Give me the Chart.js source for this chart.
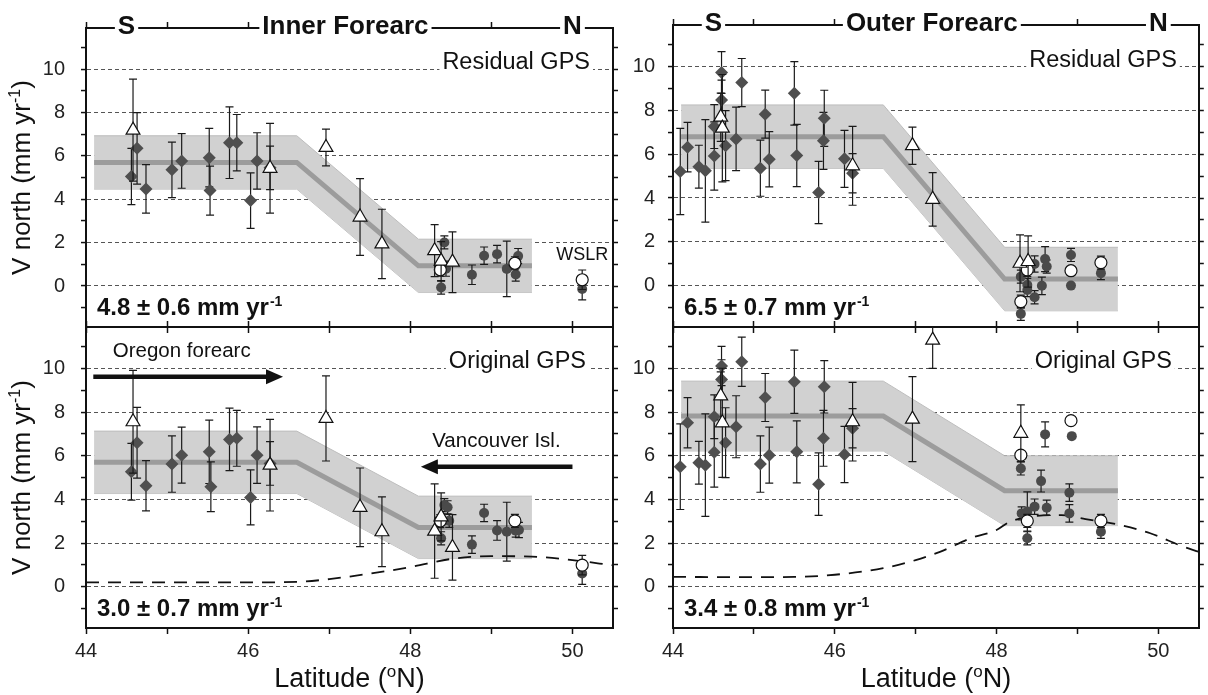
<!DOCTYPE html>
<html>
<head>
<meta charset="utf-8">
<script src="https://cdn.jsdelivr.net/npm/chart.js@4.4.1/dist/chart.umd.min.js"></script>
<style>
  html, body { margin: 0; padding: 0; background: #fff; }
  #wrap { position: relative; width: 1208px; height: 695px; overflow: hidden; background: #fff; }
  #wrap canvas { position: absolute; left: 0; top: 0; }
</style>
</head>
<body>
<div id="wrap">
  <canvas id="innerRes" width="1208" height="695"></canvas>
  <canvas id="innerOrig" width="1208" height="695"></canvas>
  <canvas id="outerRes" width="1208" height="695"></canvas>
  <canvas id="outerOrig" width="1208" height="695"></canvas>
</div>
<script>
const FONT = "'Liberation Sans', Arial, Helvetica, sans-serif";

// latitude of the model band corners (shared by all panels)
const bandLat = [44.1, 46.6, 48.1, 49.5];

// ---- Inner forearc, residual GPS  [lat, v north, error]
const innerResDiamonds = [
  [44.56, 5.05, 1.3], [44.63, 6.35, 1.65], [44.74, 4.48, 1.12], [45.06, 5.36, 1.28],
  [45.18, 5.77, 1.26], [45.52, 5.92, 1.35], [45.53, 4.40, 1.13], [45.77, 6.61, 1.65],
  [45.86, 6.61, 1.3], [46.03, 3.94, 1.28], [46.11, 5.77, 1.3], [46.27, 5.45, 1.0]
];
const innerResTriangles = [
  [44.58, 7.19, 2.35], [46.27, 5.43, 2.07], [46.96, 6.39, 0.85], [47.38, 3.18, 1.77],
  [47.65, 1.94, 1.6], [48.30, 1.63, 1.2], [48.38, 1.15, 0.9], [48.52, 1.10, 1.4]
];
const innerResCircles = [
  [48.42, 2.01, 0.3], [48.44, 0.8, 0.35], [48.38, -0.07, 0.3], [48.76, 0.52, 0.45],
  [48.91, 1.40, 0.4], [49.07, 1.47, 0.4], [49.19, 0.79, 1.28], [49.33, 1.38, 0.35],
  [49.30, 0.53, 0.3], [50.12, -0.14, 0.5]
];
const innerResOpen = [[48.37, 0.75, 0.3], [49.29, 1.05, 0.3], [50.12, 0.29, 0.45]];
const innerResModel = [5.7, 5.7, 0.93, 0.93];
const innerResHalf = 1.23;

// ---- Inner forearc, original GPS
const innerOrigDiamonds = [
  [44.56, 5.27, 1.3], [44.63, 6.60, 1.62], [44.74, 4.63, 1.15], [45.06, 5.62, 1.29],
  [45.18, 6.03, 1.28], [45.52, 6.18, 1.45], [45.54, 4.58, 1.14], [45.77, 6.75, 1.43],
  [45.86, 6.80, 1.28], [46.03, 4.09, 1.26], [46.11, 6.03, 1.29], [46.27, 5.65, 1.0]
];
const innerOrigTriangles = [
  [44.58, 7.56, 2.35], [46.27, 5.57, 2.1], [46.96, 7.71, 1.95], [47.38, 3.64, 1.8],
  [47.65, 2.52, 1.6], [48.30, 2.55, 2.16], [48.38, 3.2, 1.1], [48.52, 1.80, 1.5]
];
const innerOrigCircles = [
  [48.42, 3.74, 0.3], [48.46, 3.64, 0.3], [48.48, 3.02, 0.3], [48.38, 2.22, 0.3],
  [48.76, 1.93, 0.4], [48.91, 3.38, 0.4], [49.07, 2.58, 0.45], [49.19, 2.52, 1.35],
  [49.30, 2.57, 0.3], [49.34, 2.6, 0.35], [50.12, 0.61, 0.5]
];
const innerOrigOpen = [[48.37, 3.01, 0.3], [49.29, 3.02, 0.3], [50.12, 0.99, 0.45]];
const innerOrigModel = [5.7, 5.7, 2.72, 2.72];
const innerOrigHalf = 1.43;
const innerCurveLat = [44.0, 45.0, 46.0, 46.6, 47.0, 47.5, 48.0, 48.5, 49.0, 49.5, 50.0, 50.5];
const innerCurveV = [0.2, 0.2, 0.2, 0.22, 0.35, 0.6, 0.9, 1.27, 1.4, 1.38, 1.22, 0.98];

// ---- Outer forearc, residual GPS
const outerResDiamonds = [
  [44.09, 5.21, 1.97], [44.18, 6.32, 1.13], [44.32, 5.43, 0.98], [44.40, 5.24, 2.34],
  [44.51, 5.92, 1.56], [44.51, 7.26, 1.0], [44.60, 9.73, 0.95], [44.60, 8.48, 0.9],
  [44.65, 6.39, 1.6], [44.78, 6.70, 1.45], [44.85, 9.27, 1.1], [45.08, 5.36, 1.28],
  [45.14, 7.83, 1.1], [45.19, 5.77, 1.26], [45.50, 8.78, 1.45], [45.53, 5.94, 1.42],
  [45.80, 4.25, 1.42], [45.87, 7.64, 1.28], [45.86, 6.61, 1.3], [46.12, 5.79, 1.3],
  [46.22, 5.13, 0.9]
];
const outerResTriangles = [
  [44.59, 7.69, 1.1], [44.61, 7.19, 2.45], [46.22, 5.47, 1.8], [46.96, 6.39, 0.85],
  [47.21, 3.94, 1.22], [48.29, 1.02, 1.3], [48.39, 1.10, 1.17]
];
const outerResCircles = [
  [48.47, 0.99, 0.37], [48.60, 1.21, 0.57], [48.62, 0.87, 0.3], [48.30, 0.41, 0.3],
  [48.38, 0.03, 0.3], [48.38, -0.2, 0.3], [48.56, -0.01, 0.4], [48.47, -0.53, 0.3],
  [48.30, -1.29, 0.3], [48.92, 1.40, 0.3], [48.92, 0.0, 0], [49.29, 0.57, 0.3]
];
const outerResOpen = [[48.38, 0.72, 0.3], [48.30, -0.73, 0.3], [48.92, 0.68, 0], [49.29, 1.05, 0.3]];
const outerResModel = [6.8, 6.8, 0.3, 0.3];
const outerResHalf = 1.45;

// ---- Outer forearc, original GPS
const outerOrigDiamonds = [
  [44.09, 5.50, 1.96], [44.18, 7.51, 1.15], [44.32, 5.68, 0.98], [44.40, 5.57, 2.35],
  [44.51, 7.79, 1.0], [44.51, 6.16, 1.6], [44.60, 10.11, 0.9], [44.60, 9.50, 0.9],
  [44.65, 6.60, 1.6], [44.78, 7.33, 1.42], [44.85, 10.31, 1.13], [45.08, 5.62, 1.29],
  [45.14, 8.67, 1.1], [45.19, 6.03, 1.28], [45.50, 9.39, 1.45], [45.53, 6.18, 1.42],
  [45.80, 4.70, 1.43], [45.87, 9.16, 1.2], [45.86, 6.80, 1.28], [46.12, 6.06, 1.29],
  [46.22, 7.26, 0.9]
];
const outerOrigTriangles = [
  [44.59, 8.74, 1.1], [44.61, 7.51, 2.5], [46.22, 7.56, 1.8], [46.96, 7.68, 1.95],
  [47.21, 11.3, 1.3], [48.30, 7.03, 1.3]
];
const outerOrigCircles = [
  [48.60, 6.98, 0.57], [48.93, 6.90, 0], [48.30, 5.42, 0.3], [48.55, 4.84, 0.5],
  [48.90, 4.31, 0.4], [48.90, 3.36, 0.4], [48.62, 3.62, 0.35], [48.47, 3.67, 0.35],
  [48.31, 3.36, 0.3], [48.38, 3.45, 0.9], [48.38, 2.22, 0.3], [49.29, 2.52, 0.3]
];
const outerOrigOpen = [[48.92, 7.61, 0], [48.30, 6.03, 0], [48.38, 3.02, 0.3], [49.29, 3.02, 0.3]];
const outerOrigModel = [7.82, 7.82, 4.4, 4.4];
const outerOrigHalf = 1.6;
const outerCurveLat = [44.0, 45.0, 45.5, 46.0, 46.6, 47.0, 47.3, 47.7, 48.0, 48.15, 48.5, 48.8, 49.1, 49.5, 49.9, 50.3, 50.5];
const outerCurveV = [0.45, 0.44, 0.45, 0.55, 0.85, 1.22, 1.6, 2.25, 2.6, 2.95, 3.25, 3.28, 3.1, 2.85, 2.45, 1.85, 1.6];

const X_MIN = 44, X_MAX = 50.5;
const Y_MIN = -1.89, Y_MAX = 11.9;
const W = 1208, H = 695;

// error bars are drawn just before each marker dataset
const errorBars = {
  id: 'errorBars',
  beforeDatasetDraw(chart, args) {
    const ds = chart.data.datasets[args.index];
    if (!ds.errorBars) return;
    const { ctx, chartArea: a, scales: { x, y } } = chart;
    ctx.save();
    ctx.beginPath();
    ctx.rect(a.left, a.top, a.right - a.left, a.bottom - a.top);
    ctx.clip();
    ctx.strokeStyle = '#1a1a1a';
    ctx.lineWidth = 1.2;
    ds.data.forEach(p => {
      if (!p.e) return;
      const px = x.getPixelForValue(p.x);
      const y1 = y.getPixelForValue(p.y + p.e);
      const y2 = y.getPixelForValue(p.y - p.e);
      ctx.beginPath();
      ctx.moveTo(px, y1); ctx.lineTo(px, y2);
      ctx.moveTo(px - 4, y1); ctx.lineTo(px + 4, y1);
      ctx.moveTo(px - 4, y2); ctx.lineTo(px + 4, y2);
      ctx.stroke();
    });
    ctx.restore();
  }
};

function arrow(ctx, x1, y1, x2, y2) {
  const dir = Math.sign(x2 - x1);
  ctx.lineWidth = 4.5;
  ctx.strokeStyle = '#111';
  ctx.fillStyle = '#111';
  ctx.beginPath();
  ctx.moveTo(x1, y1);
  ctx.lineTo(x2 - dir * 14, y2);
  ctx.stroke();
  ctx.beginPath();
  ctx.moveTo(x2, y2);
  ctx.lineTo(x2 - dir * 17, y2 - 7.5);
  ctx.lineTo(x2 - dir * 17, y2 + 7.5);
  ctx.closePath();
  ctx.fill();
}

// text that sits on the panels: headers, labels, rates, axis titles
const decor = {
  id: 'decor',
  afterDraw(chart, args, o) {
    const { ctx, chartArea: a, scales: { x, y } } = chart;
    ctx.save();
    ctx.textBaseline = 'alphabetic';

    if (o.header) {
      ctx.font = 'bold 26px ' + FONT;
      ctx.textAlign = 'center';
      [['S', 44.5], [o.header, 47.2], ['N', 50]].forEach(([t, lat]) => {
        const px = x.getPixelForValue(lat);
        const w = ctx.measureText(t).width;
        ctx.fillStyle = '#fff';
        ctx.fillRect(px - w / 2 - 3, a.top - 16, w + 6, 19);
        ctx.fillStyle = '#111';
        ctx.fillText(t, px, a.top + 6);
      });
    }

    // panel label on the 10 gridline
    ctx.font = '23.5px ' + FONT;
    const tw = ctx.measureText(o.label).width;
    const bx = a.right - o.labelRight;
    const by = y.getPixelForValue(10);
    ctx.fillStyle = '#fff';
    ctx.fillRect(bx - tw - 3, by - 2, tw + 6, 4);
    ctx.fillStyle = '#111';
    ctx.textAlign = 'right';
    ctx.fillText(o.label, bx, by);

    // rate text with superscript
    ctx.textAlign = 'left';
    ctx.font = 'bold 24px ' + FONT;
    const rx = a.left + 11, ry = a.bottom - 12;
    ctx.fillText(o.rate, rx, ry);
    const rw = ctx.measureText(o.rate).width;
    ctx.font = 'bold 14px ' + FONT;
    ctx.fillText('-1', rx + rw + 1, ry - 9);

    if (o.wslr) {
      ctx.font = '18px ' + FONT;
      ctx.textAlign = 'center';
      ctx.fillText('WSLR', x.getPixelForValue(50.12), y.getPixelForValue(1.2));
    }

    if (o.arrows) {
      ctx.font = '20.5px ' + FONT;
      ctx.textAlign = 'left';
      ctx.fillText('Oregon forearc', x.getPixelForValue(44.33), y.getPixelForValue(10.54));
      arrow(ctx, x.getPixelForValue(44.09), y.getPixelForValue(9.62), x.getPixelForValue(46.43), y.getPixelForValue(9.62));
      ctx.font = '20.5px ' + FONT;
      ctx.fillStyle = '#111';
      ctx.fillText('Vancouver Isl.', x.getPixelForValue(48.27), y.getPixelForValue(6.41));
      arrow(ctx, x.getPixelForValue(50.0), y.getPixelForValue(5.5), x.getPixelForValue(48.13), y.getPixelForValue(5.5));
    }

    if (o.yTitle) {
      ctx.save();
      ctx.translate(30, (a.top + a.bottom) / 2);
      ctx.rotate(-Math.PI / 2);
      const f1 = '26px ' + FONT, f2 = '16px ' + FONT;
      ctx.font = f1;
      const w1 = ctx.measureText('V north (mm yr').width, w3 = ctx.measureText(')').width;
      ctx.font = f2;
      const w2 = ctx.measureText('-1').width;
      let sx = -(w1 + w2 + w3) / 2;
      ctx.fillStyle = '#111';
      ctx.textAlign = 'left';
      ctx.font = f1; ctx.fillText('V north (mm yr', sx, 0); sx += w1;
      ctx.font = f2; ctx.fillText('-1', sx, -10); sx += w2;
      ctx.font = f1; ctx.fillText(')', sx, 0);
      ctx.restore();
    }

    if (o.xTitle) {
      const f1 = '27px ' + FONT, f2 = '17px ' + FONT;
      ctx.font = f1;
      const w1 = ctx.measureText('Latitude (').width, w3 = ctx.measureText('N)').width;
      ctx.font = f2;
      const w2 = ctx.measureText('o').width;
      let sx = (a.left + a.right) / 2 - (w1 + w2 + w3) / 2;
      const sy = 687;
      ctx.fillStyle = '#111';
      ctx.textAlign = 'left';
      ctx.font = f1; ctx.fillText('Latitude (', sx, sy); sx += w1;
      ctx.font = f2; ctx.fillText('o', sx, sy - 10); sx += w2;
      ctx.font = f1; ctx.fillText('N)', sx, sy);
    }
    ctx.restore();
  }
};

const toPts = rows => rows.map(r => ({ x: r[0], y: r[1], e: r[2] }));

function markers(rows, style, fill, edge, radius, bw) {
  return {
    data: toPts(rows),
    errorBars: true,
    pointStyle: style,
    pointRadius: radius,
    pointBackgroundColor: fill,
    pointBorderColor: edge,
    pointBorderWidth: bw,
    showLine: false
  };
}

function makePanel(id, p) {
  const g = p.geom;
  const datasets = [
    markers(p.triangles, 'triangle', '#fff', '#111', 8, 1.2),
    markers(p.open, 'circle', '#fff', '#111', 6, 1.2),
    markers(p.circles, 'circle', '#4a4a4a', '#4a4a4a', 5, 0),
    markers(p.diamonds, 'rectRot', '#4f4f4f', '#4f4f4f', 6.5, 0)
  ];
  if (p.curveLat) {
    datasets.push({
      data: p.curveLat.map((v, i) => ({ x: v, y: p.curveV[i] })),
      showLine: true, pointRadius: 0, borderColor: '#111', borderWidth: 1.8,
      borderDash: [13, 9], cubicInterpolationMode: 'monotone', fill: false
    });
  }
  datasets.push({
    data: bandLat.map((v, i) => ({ x: v, y: p.model[i] })),
    showLine: true, pointRadius: 0, borderColor: '#9c9c9c', borderWidth: 5, fill: false
  });
  datasets.push({
    data: bandLat.map((v, i) => ({ x: v, y: p.model[i] + p.half })),
    showLine: true, pointRadius: 0, borderColor: '#bdbdbd', borderWidth: 1,
    backgroundColor: '#d1d1d1', fill: '+1'
  });
  datasets.push({
    data: bandLat.map((v, i) => ({ x: v, y: p.model[i] - p.half })),
    showLine: true, pointRadius: 0, borderColor: '#bdbdbd', borderWidth: 1, fill: false
  });

  const evenLabel = v => (v % 2 === 0 && v >= 0 && v <= 10);
  const tickFont = { family: FONT, size: 20 };

  new Chart(document.getElementById(id), {
    type: 'scatter',
    data: { datasets },
    options: {
      responsive: false,
      animation: false,
      devicePixelRatio: 1,
      layout: { padding: 0 },
      plugins: {
        legend: { display: false },
        tooltip: { enabled: false },
        decor: p.decor
      },
      scales: {
        x: {
          type: 'linear', position: 'bottom', min: X_MIN, max: X_MAX,
          afterFit: s => { s.height = H - g.bottom; },
          ticks: {
            display: p.xLabels, stepSize: 1, includeBounds: false, autoSkip: false,
            maxRotation: 0, padding: 5, font: tickFont, color: '#222',
            callback: v => (v % 2 === 0 ? v : '')
          },
          grid: { drawOnChartArea: false, tickLength: 6, tickWidth: 1.5, tickColor: '#111', color: '#111' },
          border: { color: '#111', width: 2 }
        },
        x2: {
          type: 'linear', position: 'top', min: X_MIN, max: X_MAX,
          afterFit: s => { s.height = g.top; },
          ticks: { display: false, stepSize: 1, includeBounds: false, autoSkip: false },
          grid: { drawOnChartArea: false, tickLength: 6, tickWidth: 1.5, tickColor: '#111', color: '#111' },
          border: { color: '#111', width: 2 }
        },
        y: {
          type: 'linear', position: 'left', min: Y_MIN, max: Y_MAX,
          afterFit: s => { s.width = g.left; },
          ticks: {
            stepSize: 1, includeBounds: false, autoSkip: false, padding: p.yPad,
            font: tickFont, color: '#222',
            callback: v => (evenLabel(v) ? v : '')
          },
          grid: {
            drawOnChartArea: true, tickLength: 5, tickWidth: 1.5, tickColor: '#111', lineWidth: 1.1,
            color: c => (c.tick && evenLabel(c.tick.value) ? '#555' : 'rgba(0,0,0,0)')
          },
          border: { color: '#111', width: 2, dash: [4, 3] }
        },
        y2: {
          type: 'linear', position: 'right', min: Y_MIN, max: Y_MAX,
          afterFit: s => { s.width = W - g.right; },
          ticks: { display: false, stepSize: 1, includeBounds: false, autoSkip: false },
          grid: { drawOnChartArea: false, tickLength: 5, tickWidth: 1.5, tickColor: '#111', color: '#111' },
          border: { color: '#111', width: 2 }
        }
      }
    },
    plugins: [errorBars, decor]
  });
}

makePanel('innerRes', {
  geom: { left: 86, top: 25, right: 613, bottom: 327 },
  diamonds: innerResDiamonds, triangles: innerResTriangles, circles: innerResCircles, open: innerResOpen,
  model: innerResModel, half: innerResHalf, xLabels: false, yPad: 16,
  decor: { header: 'Inner Forearc', label: 'Residual GPS', labelRight: 23, rate: '4.8 ± 0.6 mm yr', yTitle: true, wslr: true }
});
makePanel('innerOrig', {
  geom: { left: 86, top: 327, right: 613, bottom: 628 },
  diamonds: innerOrigDiamonds, triangles: innerOrigTriangles, circles: innerOrigCircles, open: innerOrigOpen,
  model: innerOrigModel, half: innerOrigHalf, curveLat: innerCurveLat, curveV: innerCurveV, xLabels: true, yPad: 16,
  decor: { label: 'Original GPS', labelRight: 27, rate: '3.0 ± 0.7 mm yr', yTitle: true, xTitle: true, arrows: true }
});
makePanel('outerRes', {
  geom: { left: 673, top: 25, right: 1202, bottom: 327 },
  diamonds: outerResDiamonds, triangles: outerResTriangles, circles: outerResCircles, open: outerResOpen,
  model: outerResModel, half: outerResHalf, xLabels: false, yPad: 13,
  decor: { header: 'Outer Forearc', label: 'Residual GPS', labelRight: 22, rate: '6.5 ± 0.7 mm yr' }
});
makePanel('outerOrig', {
  geom: { left: 673, top: 327, right: 1202, bottom: 628 },
  diamonds: outerOrigDiamonds, triangles: outerOrigTriangles, circles: outerOrigCircles, open: outerOrigOpen,
  model: outerOrigModel, half: outerOrigHalf, curveLat: outerCurveLat, curveV: outerCurveV, xLabels: true, yPad: 13,
  decor: { label: 'Original GPS', labelRight: 27, rate: '3.4 ± 0.8 mm yr', xTitle: true }
});
</script>
</body>
</html>
